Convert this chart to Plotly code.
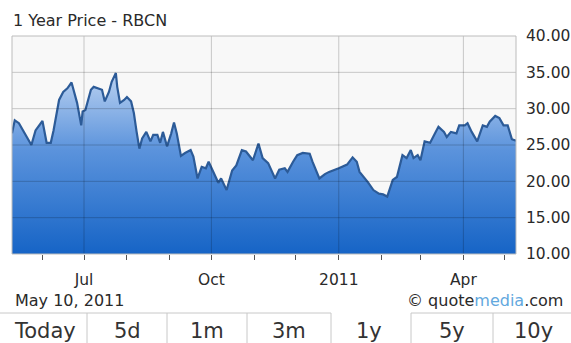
import plotly.graph_objects as go

# ---------------- data ----------------
dates = [
    "2010-05-10", "2010-05-12", "2010-05-15", "2010-05-19", "2010-05-22", "2010-05-24", "2010-05-27",
    "2010-06-01", "2010-06-04", "2010-06-07", "2010-06-09", "2010-06-13", "2010-06-16", "2010-06-19",
    "2010-06-22", "2010-06-24", "2010-06-26", "2010-06-29", "2010-06-30", "2010-07-02", "2010-07-06",
    "2010-07-08", "2010-07-12", "2010-07-14", "2010-07-16", "2010-07-19", "2010-07-21", "2010-07-24",
    "2010-07-25", "2010-07-27", "2010-07-30", "2010-08-01", "2010-08-04", "2010-08-06", "2010-08-08",
    "2010-08-10", "2010-08-12", "2010-08-15", "2010-08-18", "2010-08-20", "2010-08-23", "2010-08-25",
    "2010-08-27", "2010-08-30", "2010-09-02", "2010-09-04", "2010-09-06", "2010-09-09", "2010-09-12",
    "2010-09-16", "2010-09-18", "2010-09-21", "2010-09-24", "2010-09-27", "2010-09-29", "2010-10-03",
    "2010-10-06", "2010-10-08", "2010-10-12", "2010-10-16", "2010-10-19", "2010-10-23", "2010-10-26",
    "2010-10-31", "2010-11-04", "2010-11-07", "2010-11-11", "2010-11-16", "2010-11-19", "2010-11-23",
    "2010-11-25", "2010-11-29", "2010-12-02", "2010-12-06", "2010-12-11", "2010-12-13", "2010-12-18",
    "2010-12-22", "2010-12-25", "2011-01-01", "2011-01-07", "2011-01-11", "2011-01-14", "2011-01-16",
    "2011-01-22", "2011-01-26", "2011-01-30", "2011-02-02", "2011-02-05", "2011-02-09", "2011-02-12",
    "2011-02-16", "2011-02-19", "2011-02-22", "2011-02-24", "2011-02-27", "2011-03-01", "2011-03-04",
    "2011-03-08", "2011-03-12", "2011-03-14", "2011-03-18", "2011-03-20", "2011-03-23", "2011-03-27",
    "2011-03-29", "2011-04-02", "2011-04-04", "2011-04-07", "2011-04-11", "2011-04-15", "2011-04-18",
    "2011-04-20", "2011-04-24", "2011-04-27", "2011-04-30", "2011-05-03", "2011-05-06", "2011-05-09",
]
prices = [
    26.6, 28.4, 28.0, 26.6, 25.7, 25.0, 27.0,
    28.3, 25.3, 25.3, 27.0, 31.2, 32.3, 32.8,
    33.6, 32.1, 30.8, 27.7, 29.6, 29.8, 32.6,
    33.0, 32.7, 32.6, 31.0, 32.3, 33.7, 34.9,
    33.0, 30.8, 31.2, 31.6, 31.0, 29.4, 26.8,
    24.5, 25.9, 26.8, 25.5, 26.4, 26.4, 25.3,
    26.8, 24.8, 26.6, 28.1, 26.6, 23.5, 23.9,
    24.3, 23.4, 20.4, 22.0, 21.8, 22.7, 21.1,
    19.8, 20.4, 18.8, 21.5, 22.2, 24.3, 24.1,
    22.9, 25.2, 23.2, 22.5, 20.4, 21.6, 21.8,
    21.3, 22.7, 23.6, 23.9, 23.8, 22.7, 20.4,
    21.0, 21.3, 21.8, 22.3, 23.3, 22.7, 21.3,
    19.9, 18.8, 18.3, 18.2, 17.9, 20.2, 20.6,
    23.6, 23.2, 24.3, 23.2, 23.6, 22.9, 25.5,
    25.3, 26.8, 27.5, 26.8, 26.1, 26.8, 26.6,
    27.7, 27.7, 28.0, 26.8, 25.5, 27.7, 27.5,
    28.2, 29.0, 28.7, 27.7, 27.7, 25.8, 25.6,
]

x_range = ["2010-05-10", "2011-05-09"]
y_range = [10, 40]
y_ticks = [10, 15, 20, 25, 30, 35, 40]
major_tick_dates = ["2010-07-01", "2010-10-01", "2011-01-01", "2011-04-01"]
major_tick_text = ["Jul", "Oct", "2011", "Apr"]
title_text = "1 Year Price - RBCN"
date_text = "May 10, 2011"
buttons = ["Today", "5d", "1m", "3m", "1y", "5y", "10y"]

# ---------------- layout geometry (pixels) ----------------
W, H = 571, 343
L, R, T, B = 12, 55, 36, 89
PW, PH = W - L - R, H - T - B


def px(x):
    return (x - L) / PW


def py(y):
    return (H - B - y) / PH


FONT = "DejaVu Sans"
TXT = "#2a2a2a"

fig = go.Figure()
fig.add_trace(go.Scatter(
    x=dates, y=prices, mode="lines",
    line=dict(color="#2c5b98", width=2.2),
    fill="tozeroy",
    fillgradient=dict(type="vertical",
                      colorscale=[[0, "#1664c6"], [0.55, "#5b93dc"], [1, "#c4d8f3"]],
                      start=10, stop=36),
    hoverinfo="skip", showlegend=False,
))

shapes = []
# grid lines drawn above the fill
for d in major_tick_dates:
    shapes.append(dict(type="line", xref="x", yref="paper", x0=d, x1=d, y0=0, y1=1,
                       line=dict(color="rgba(0,0,0,0.2)", width=1), layer="above"))
for v in y_ticks[1:-1]:
    shapes.append(dict(type="line", xref="paper", yref="y", x0=0, x1=1, y0=v, y1=v,
                       line=dict(color="rgba(0,0,0,0.2)", width=1), layer="above"))
# plot border
shapes.append(dict(type="rect", xref="paper", yref="paper", x0=0, x1=1, y0=0, y1=1,
                   line=dict(color="#bcbcbc", width=1), layer="above"))

# button bar
BAR_TOP = 313
seps = [87, 167, 247, 331, 411, 493]
for a, b in [(0, 331), (411, W)]:
    shapes.append(dict(type="line", xref="paper", yref="paper", x0=px(a), x1=px(b),
                       y0=py(BAR_TOP), y1=py(BAR_TOP), line=dict(color="#c8c8c8", width=1)))
for s in seps:
    shapes.append(dict(type="line", xref="paper", yref="paper", x0=px(s), x1=px(s),
                       y0=py(BAR_TOP), y1=py(H + 2), line=dict(color="#c8c8c8", width=1)))

annotations = [
    dict(text=title_text, x=px(11), y=py(20), xref="paper", yref="paper",
         xanchor="left", yanchor="middle", showarrow=False,
         font=dict(family=FONT, size=16, color=TXT)),
    dict(text=date_text, x=px(13), y=py(300), xref="paper", yref="paper",
         xanchor="left", yanchor="middle", showarrow=False,
         font=dict(family=FONT, size=16, color=TXT)),
    dict(text="© quote<span style='color:#62a8de'>media</span>.com", x=px(565), y=py(300),
         xref="paper", yref="paper", xanchor="right", yanchor="middle", showarrow=False,
         font=dict(family=FONT, size=16, color=TXT)),
]
btn_centers = [45, 127, 207, 289, 369, 452, 533]
for name, cx in zip(buttons, btn_centers):
    annotations.append(dict(text=name, x=px(cx), y=py(331), xref="paper", yref="paper",
                            xanchor="center", yanchor="middle", showarrow=False,
                            font=dict(family=FONT, size=21, color="#333333")))

fig.update_layout(
    width=W, height=H,
    margin=dict(l=L, r=R, t=T, b=B, autoexpand=False),
    paper_bgcolor="white",
    plot_bgcolor="#f8f8f8",
    shapes=shapes,
    annotations=annotations,
    xaxis=dict(
        type="date", range=x_range, showgrid=False, zeroline=False,
        tickmode="array", tickvals=major_tick_dates, ticktext=major_tick_text,
        ticks="outside", ticklen=5, tickcolor="#555555", tickwidth=1,
        ticklabelstandoff=6, automargin=False,
        minor=dict(dtick="M1", tick0="2010-06-01", ticks="outside", ticklen=5,
                   tickcolor="#555555", tickwidth=1, showgrid=False),
        tickfont=dict(family=FONT, size=15.5, color=TXT),
        showline=False, fixedrange=True,
    ),
    yaxis=dict(
        range=y_range, side="right", tickmode="array", tickvals=y_ticks,
        tickformat=".2f", showgrid=False, zeroline=False, showline=False,
        ticks="", ticklabelstandoff=9, automargin=False,
        tickfont=dict(family=FONT, size=15.5, color=TXT), fixedrange=True,
    ),
)

fig.write_html("out.html", config={"displayModeBar": False})
